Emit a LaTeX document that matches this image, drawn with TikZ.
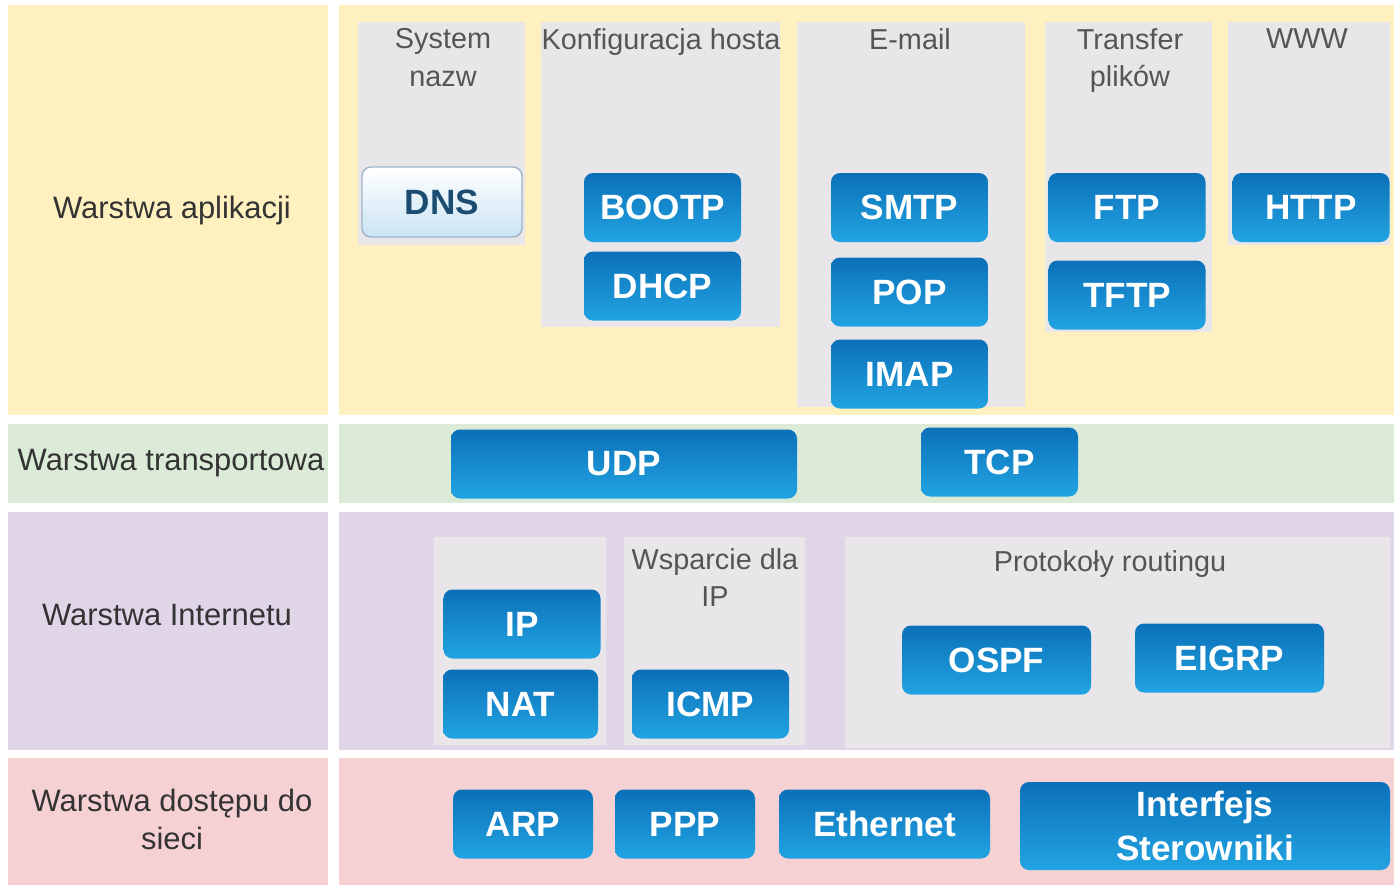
\documentclass[tikz,border=0pt]{standalone}
\usepackage{fontspec}
\setmainfont{Liberation Sans}
\definecolor{appyel}{HTML}{FEF0BF}
\definecolor{trgreen}{HTML}{DCEBD8}
\definecolor{inpurple}{HTML}{E0D6E7}
\definecolor{acpink}{HTML}{F6D1D3}
\definecolor{groupgray}{HTML}{E8E6E9}
\definecolor{prototop}{HTML}{0B70B8}
\definecolor{protobot}{HTML}{22A4E2}
\definecolor{layertext}{HTML}{333333}
\definecolor{grouptext}{HTML}{555555}
\definecolor{dnstext}{HTML}{1B4D72}
\definecolor{dnsedge}{HTML}{9DB4C8}
\definecolor{dnsbot}{HTML}{CBE4F4}
\begin{document}
\begin{tikzpicture}[x=1cm,y=-1cm]
  \tikzstyle{proto}=[rectangle,rounded corners=0.09cm,top color=prototop,bottom color=protobot,text=white,font=\fontsize{10}{12.5}\selectfont\bfseries,minimum width=1.57cm,minimum height=0.69cm,inner sep=0pt,align=center]
  \tikzstyle{dnsproto}=[proto,draw=dnsedge,top color=white,bottom color=dnsbot,text=dnstext]
  \tikzstyle{layer}=[text=layertext,font=\fontsize{8.8}{10.8}\selectfont,align=center,inner sep=0pt]
  \tikzstyle{group}=[text=grouptext,font=\fontsize{8.2}{10.6}\selectfont,align=center,anchor=north,inner sep=0pt]
  \useasboundingbox (0,0) rectangle (13.94,8.85);
  \fill[white] (0,0) rectangle (13.94,8.85);
  % warstwy
  \fill[appyel] (0.08,0.05) rectangle (3.28,4.15);
  \fill[appyel] (3.39,0.05) rectangle (13.94,4.15);
  \fill[trgreen] (0.08,4.24) rectangle (3.28,5.03);
  \fill[trgreen] (3.39,4.24) rectangle (13.94,5.03);
  \fill[inpurple] (0.08,5.12) rectangle (3.28,7.50);
  \fill[inpurple] (3.39,5.12) rectangle (13.94,7.50);
  \fill[acpink] (0.08,7.58) rectangle (3.28,8.85);
  \fill[acpink] (3.39,7.58) rectangle (13.94,8.85);
  % grupy
  \fill[groupgray] (3.58,0.22) rectangle (5.25,2.45);
  \fill[groupgray] (5.41,0.22) rectangle (7.80,3.27);
  \fill[groupgray] (7.97,0.22) rectangle (10.25,4.07);
  \fill[groupgray] (10.45,0.22) rectangle (12.12,3.32);
  \fill[groupgray] (12.28,0.22) rectangle (13.90,2.45);
  \fill[groupgray] (4.34,5.37) rectangle (6.06,7.45);
  \fill[groupgray] (6.24,5.37) rectangle (8.05,7.45);
  \fill[groupgray] (8.45,5.37) rectangle (13.90,7.48);

  \node[layer] (lapp) at (1.72,2.10) {Warstwa aplikacji};
  \node[layer] (ltr) at (1.71,4.63) {Warstwa transportowa};
  \node[layer] (lin) at (1.67,6.15) {Warstwa Internetu};
  \node[layer] (lac) at (1.72,8.19) {Warstwa dostępu do\\sieci};

  \node[group] (gnazw) at (4.43,0.28) {System\\nazw};
  \node[group] (gkonf) at (6.61,0.28) {Konfiguracja hosta};
  \node[group] (gmail) at (9.10,0.28) {E-mail};
  \node[group] (gtrans) at (11.30,0.28) {Transfer\\plików};
  \node[group] (gwww) at (13.07,0.28) {WWW};
  \node[group] (gwsp) at (7.15,5.48) {Wsparcie dla\\IP};
  \node[group] (grout) at (11.10,5.50) {Protokoły routingu};

  \node[dnsproto,minimum width=1.60cm,minimum height=0.70cm] (dns) at (4.42,2.02) {DNS};
  \node[proto] (bootp) at (6.625,2.075) {BOOTP};
  \node[proto] (dhcp) at (6.625,2.86) {DHCP};
  \node[proto] (smtp) at (9.095,2.075) {SMTP};
  \node[proto] (pop) at (9.095,2.92) {POP};
  \node[proto] (imap) at (9.095,3.74) {IMAP};
  \node[proto] (ftp) at (11.27,2.075) {FTP};
  \node[proto] (tftp) at (11.27,2.95) {TFTP};
  \node[proto] (http) at (13.11,2.075) {HTTP};

  \node[proto,minimum width=3.46cm] (udp) at (6.24,4.64) {UDP};
  \node[proto] (tcp) at (9.995,4.62) {TCP};

  \node[proto] (ip) at (5.22,6.24) {IP};
  \node[proto,minimum width=1.55cm] (nat) at (5.205,7.04) {NAT};
  \node[proto] (icmp) at (7.105,7.04) {ICMP};
  \node[proto,minimum width=1.89cm] (ospf) at (9.965,6.60) {OSPF};
  \node[proto,minimum width=1.89cm] (eigrp) at (12.295,6.58) {EIGRP};

  \node[proto,minimum width=1.40cm] (arp) at (5.23,8.24) {ARP};
  \node[proto,minimum width=1.40cm] (ppp) at (6.85,8.24) {PPP};
  \node[proto,minimum width=2.11cm] (eth) at (8.845,8.24) {Ethernet};
  \node[proto,minimum width=3.70cm,minimum height=0.88cm] (intf) at (12.05,8.26) {Interfejs\\Sterowniki};
\end{tikzpicture}
\end{document}
